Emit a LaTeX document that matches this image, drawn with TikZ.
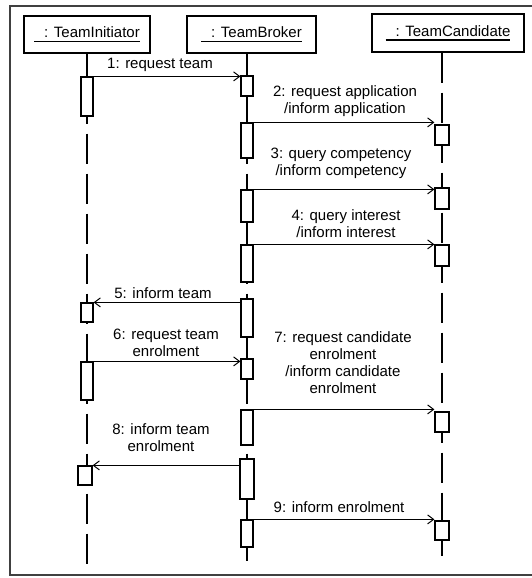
\documentclass[tikz,border=0pt]{standalone}
\usepackage{fontspec}
\setmainfont{Liberation Sans}
\usetikzlibrary{arrows.meta}

\newcommand{\objname}[1]{\vtop{\hbox{\hspace{10pt}: #1}\kern3pt\hrule height 1.4pt}}

\begin{document}
\begin{tikzpicture}[x=1pt,y=-1pt,
  objbox/.style={draw,line width=1.2pt,inner sep=0pt,font=\fontsize{15}{17}\selectfont},
  actbar/.style={draw,line width=1.2pt,fill=white,inner sep=0pt,minimum width=12pt},
  lifeline/.style={line width=1.3pt,dash pattern=on 30pt off 10pt},
  msg/.style={line width=1pt,-{Straight Barb[length=6pt,width=9pt]}},
  lbl/.style={align=center,inner sep=0pt,font=\fontsize{15}{17}\selectfont}]

  \useasboundingbox (0,0) rectangle (532,578);
  \draw[line width=2pt,black!75] (532,6) -| (10,575) -- (532,575);

  \node[objbox,minimum width=126pt,minimum height=37pt] (ini) at (87,34.5) {\objname{TeamInitiator}};
  \node[objbox,minimum width=129pt,minimum height=37pt] (brk) at (251.5,34.5) {\objname{TeamBroker}};
  \node[objbox,minimum width=152pt,minimum height=38pt] (cand) at (448,33) {\objname{TeamCandidate}};

  \coordinate (iend) at (87,567);
  \coordinate (bend) at (247,561);
  \coordinate (cend) at (442,556);

  \draw[lifeline] (ini.south -| iend) -- (iend);
  \draw[lifeline] (brk.south -| bend) -- (bend);
  \draw[lifeline] (cand.south -| cend) -- (cend);

  \node[actbar,minimum height=39pt] (i1) at (87,96.5) {};
  \node[actbar,minimum height=19pt] (i2) at (87,312.5) {};
  \node[actbar,minimum height=38pt] (i3) at (87,381) {};
  \node[actbar,minimum height=19pt,minimum width=14pt] (i4) at (85,475.5) {};

  \node[actbar,minimum height=20pt] (b1) at (247,86) {};
  \node[actbar,minimum height=35pt] (b2) at (247,140.5) {};
  \node[actbar,minimum height=32pt] (b3) at (247,206) {};
  \node[actbar,minimum height=37pt] (b4) at (247,263.5) {};
  \node[actbar,minimum height=38pt] (b5) at (247,318) {};
  \node[actbar,minimum height=20pt] (b6) at (247,369) {};
  \node[actbar,minimum height=35pt] (b7) at (247,427.5) {};
  \node[actbar,minimum height=40pt,minimum width=14pt] (b8) at (247,479) {};
  \node[actbar,minimum height=27pt] (b9) at (247,533.5) {};

  \node[actbar,minimum height=20pt,minimum width=14pt] (c1) at (442,135) {};
  \node[actbar,minimum height=21pt,minimum width=14pt] (c2) at (442,198.5) {};
  \node[actbar,minimum height=21pt,minimum width=14pt] (c3) at (442,255.5) {};
  \node[actbar,minimum height=20pt,minimum width=14pt] (c4) at (442,422) {};
  \node[actbar,minimum height=19pt,minimum width=14pt] (c5) at (442,530.5) {};

  \draw[msg] (i1.north east) -- (i1.north east -| b1.west);
  \draw[msg] (b2.north east) -- (b2.north east -| c1.west);
  \draw[msg] (b3.north east) -- (b3.north east -| c2.west);
  \draw[msg] (b4.north east) -- (b4.north east -| c3.west);
  \draw[msg] (i2.north east -| b5.west) -- (i2.north east);
  \draw[msg] (i3.north east) -- (i3.north east -| b6.west);
  \draw[msg] (b7.north east) -- (b7.north east -| c4.west);
  \draw[msg] (i4.north east -| b8.west) -- (i4.north east);
  \draw[msg] (b9.north east) -- (b9.north east -| c5.west);

  \node[lbl] (l1) at (160,65) {1: request team};
  \node[lbl] (l2) at (345,101) {2: request application\\/inform application};
  \node[lbl] (l3) at (341,163) {3: query competency\\/inform competency};
  \node[lbl] (l4) at (346,224) {4: query interest\\/inform interest};
  \node[lbl] (l5) at (163,293) {5: inform team};
  \node[lbl] (l6) at (166,343) {6: request team\\enrolment};
  \node[lbl] (l7) at (343,363) {7: request candidate\\enrolment\\/inform candidate\\enrolment};
  \node[lbl] (l8) at (161,438) {8: inform team\\enrolment};
  \node[lbl] (l9) at (339,507) {9: inform enrolment};

\end{tikzpicture}
\end{document}
